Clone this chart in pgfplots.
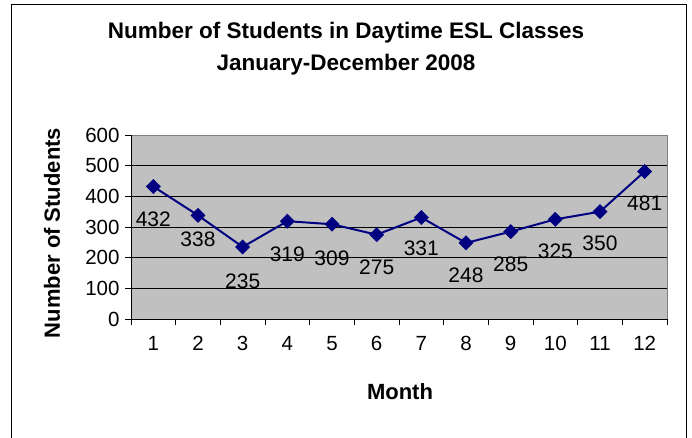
\documentclass[border=0pt]{standalone}
\usepackage{pgfplots}
\pgfplotsset{compat=1.18}
\usepackage{fontspec}
\setmainfont{Liberation Sans}

\definecolor{plotgray}{HTML}{C0C0C0}
\definecolor{navyline}{HTML}{000080}

% month, students, label offset below the point
\pgfplotstableread{
m  n    dy
1  432  -33
2  338  -24
3  235  -34
4  319  -33
5  309  -34
6  275  -33
7  331  -31
8  248  -32
9  285  -33
10 325  -32
11 350  -32
12 481  -32
}\esl

\begin{document}
\begin{tikzpicture}[x=1pt,y=1pt]
\useasboundingbox (0,0) rectangle (692,437);
\draw[line width=1pt] (11,-10) rectangle (686,432);
\coordinate (plotsw) at (131,118);

\node[font=\fontsize{22.5}{24}\selectfont\bfseries] at (346,404) {Number of Students in Daytime ESL Classes};
\node[font=\fontsize{22.5}{24}\selectfont\bfseries] at (346,372) {January-December 2008};
\node[font=\fontsize{22}{24}\selectfont\bfseries, rotate=90] at (52,204) {Number of Students};
\node[font=\fontsize{22}{24}\selectfont\bfseries] at (400,45) {Month};

\begin{axis}[
 at={(plotsw)}, anchor=south west,
 width=536pt, height=184pt, scale only axis,
 xmin=0.5, xmax=12.5, ymin=0, ymax=600,
 xtick={1,...,12}, ytick={0,100,...,500},
 extra y ticks={600}, extra y tick style={grid=none},
 minor xtick={0.5,1.5,...,12.5},
 major x tick style={draw=none},
 xtick pos=bottom, ytick pos=left,
 tick align=outside,
 major tick length=6pt, minor tick length=6pt,
 tick style={black, line width=0.8pt},
 axis lines*=left,
 axis line style={black, line width=0.8pt, -},
 axis background/.style={fill=plotgray, draw=gray, line width=0.8pt},
 ymajorgrids, grid style={black, line width=0.8pt},
 ticklabel style={font=\fontsize{20.5}{22}\selectfont},
 /pgf/number format/assume math mode=true,
 xticklabel style={yshift=-8pt},
 yticklabel style={xshift=-2pt},
 visualization depends on={\thisrow{dy}\as\dy},
 nodes near coords,
 every node near coord/.append style={anchor=center, yshift=\dy,
   font=\fontsize{21}{23}\selectfont, black},
 clip=false]
\addplot[navyline, line width=2pt, mark=square*,
  mark size=4.3pt, mark options={rotate=45, fill=navyline, draw=navyline}]
  table[x=m, y=n] {\esl};
\end{axis}
\end{tikzpicture}
\end{document}
